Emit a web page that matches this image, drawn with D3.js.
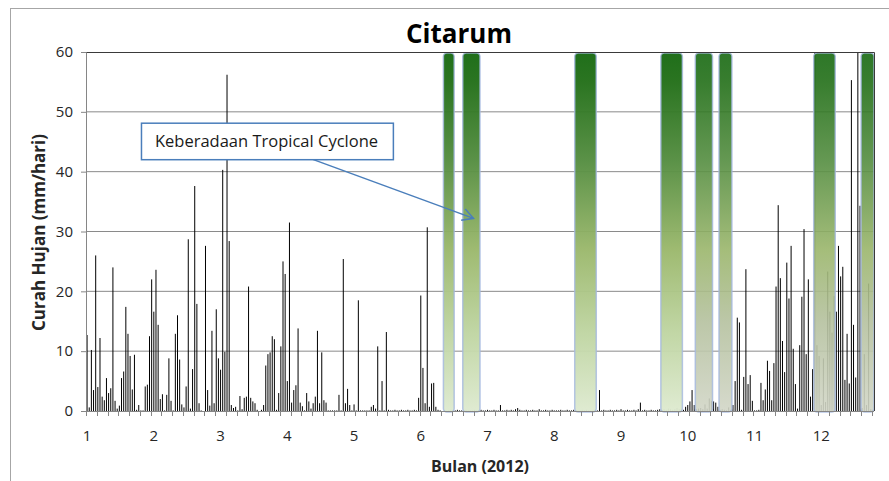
<!DOCTYPE html>
<html>
<head>
<meta charset="utf-8">
<script src="https://cdn.jsdelivr.net/npm/d3@7/dist/d3.min.js"></script>
<style>
body { margin: 0; background: #fff; }
text { font-family: "Open Sans", "DejaVu Sans", sans-serif; }
</style>
</head>
<body>
<script>
let w = 889;
let h = 481;
let plotL = 86, plotR = 874, plotT = 52, plotB = 411;

// daily rainfall 2012 (mm/hari), day 1..366
let rain = [
  12.7, 0.6, 10.2, 3.5, 26, 4, 12.2, 2.4, 1.8, 5.5,
  3, 3.8, 24, 1.7, 0.4, 0.9, 5.5, 6.6, 17.4, 12.9,
  9.2, 3.6, 9.4, 0.2, 1, 0.1, 0.1, 4.1, 4.4, 12.5,
  22, 16.6, 23.6, 14.4, 2, 2.8, 0.1, 2.7, 8.8, 1.7,
  0.1, 12.9, 16, 8.6, 1.1, 0.6, 4.1, 28.7, 0.4, 7,
  37.6, 17.9, 1.3, 0.1, 0, 27.6, 3.5, 0.9, 13.4, 1.3,
  17, 8.8, 6.9, 40.3, 9.9, 56.2, 28.4, 1, 0.5, 0.7,
  0.1, 2.5, 0.3, 2.2, 2.4, 20.8, 2.2, 1.6, 1.3, 0.2,
  0, 0.2, 1, 7.6, 9.5, 9.8, 12.5, 12, 0.2, 3,
  10.8, 25, 22.9, 5, 31.5, 1.4, 3.5, 4.3, 13.8, 1.4,
  0.8, 0.1, 3, 1.6, 0.4, 1.3, 2.4, 13.4, 1.3, 9.8,
  1.8, 1.4, 0.1, 0.1, 0.1, 0.1, 0.1, 2.7, 0.1, 25.4,
  1.3, 3.7, 1, 0.1, 1.1, 0.1, 18.5, 0.1, 0.1, 0.1,
  0.1, 0.1, 0.7, 1, 0.4, 10.8, 0.1, 5, 0.1, 13.2,
  0.2, 0.1, 0.1, 0.2, 0.1, 0.1, 0.2, 0.1, 0.1, 0.2,
  0.1, 0.1, 0.2, 0.1, 2.2, 19.3, 7.2, 1.3, 30.7, 0.7,
  4.6, 4.7, 0.7, 0.2, 0.1, 0, 0.1, 0, 0.1, 0.2,
  0.1, 0.1, 0.2, 0.1, 0.1, 0, 0.2, 0.1, 0.1, 0.1,
  0.2, 0.1, 0.1, 0.2, 0.1, 0.1, 0.2, 0.1, 0.1, 0.2,
  0.1, 0.1, 1, 0.1, 0.1, 0.2, 0.1, 0.2, 0.1, 0.3,
  0.5, 0.2, 0.1, 0.1, 0.2, 0.1, 0.1, 0.2, 0.1, 0.1,
  0.3, 0.1, 0.1, 0.2, 0.1, 0.1, 0.2, 0.1, 0.1, 0.1,
  0.2, 0.1, 0.1, 0.2, 0.1, 0.1, 0.2, 0.1, 0.1, 0.1,
  0.2, 0.1, 0.2, 0.1, 0.1, 0.2, 0.3, 0.1, 3.5, 0.1,
  0.2, 0.1, 0.1, 0.2, 0.1, 0.1, 0.2, 0.1, 0.3, 0.1,
  0.1, 0.2, 0.1, 0.1, 0.2, 0.1, 0.3, 1.4, 0.1, 0.2,
  0.1, 0.1, 0.2, 0.1, 0.1, 0.2, 0.3, 0.2, 0.3, 0.2,
  0.4, 0.3, 0.2, 0.3, 0.5, 0.3, 0.4, 0.2, 0.7, 1,
  1.6, 3.5, 1, 0.3, 0.4, 0.5, 0.3, 1.1, 0.4, 2.1,
  1.7, 1.6, 1.4, 0.7, 0.2, 0.3, 0.2, 0.1, 0.6, 0.2,
  1, 5, 15.6, 14.8, 0.2, 5.7, 23.7, 4.5, 6, 1.7,
  0.1, 0.1, 0.2, 4.7, 1.8, 3.6, 8.4, 6.7, 1.8, 8,
  20.8, 34.4, 22.2, 11.7, 6.5, 24.8, 18.8, 27.6, 10.4, 4.5,
  0.4, 11, 19.1, 30.4, 9.5, 22, 2.4, 7, 65, 11,
  9.2, 1, 8.8, 1.5, 23.3, 16.6, 13.1, 19.2, 16.6, 27.6,
  22.5, 24.1, 5.2, 12.9, 4.6, 55.3, 14.4, 5.6, 70, 34.3,
  0.5, 9.5, 1, 21.3, 0.3, 0.2
];
let days = d3.range(1, rain.length + 1);

// tropical cyclone periods (first / last day)
let cycStart = [167, 176, 228, 268, 284, 295, 339, 361];
let cycEnd   = [171, 183, 237, 277, 291, 300, 348, 366];
let cycFaded = [false, false, false, false, true, true, true, true];

// axis labels
let labelDays = [1, 32, 63, 94, 125, 156, 187, 218, 249, 280, 311, 342];
let monthLabels = ["1", "2", "3", "4", "5", "6", "7", "8", "9", "10", "11", "12"];
let yTicks = [0, 10, 20, 30, 40, 50, 60];

let svg = d3.select("body")
  .append("svg")
  .attr("width", w)
  .attr("height", h);

let defs = svg.append("defs");

defs.append("clipPath").attr("id", "plotclip")
  .append("rect")
  .attr("x", plotL).attr("y", plotT)
  .attr("width", plotR - plotL).attr("height", plotB - plotT);

function gradient(id, stops) {
  let g = defs.append("linearGradient").attr("id", id)
    .attr("x1", 0).attr("y1", 0).attr("x2", 0).attr("y2", 1);
  stops.forEach(s => g.append("stop").attr("offset", s[0]).attr("stop-color", s[1]));
}
gradient("gGreen", [[0, "#176911"], [0.08, "#226f18"], [0.3, "#548d40"], [0.55, "#9bb86c"], [0.78, "#bfd5a2"], [1, "#deead0"]]);
gradient("gGrey", [[0, "#176911"], [0.08, "#226f18"], [0.3, "#548d40"], [0.55, "#9bb66c"], [0.75, "#b5c19f"], [1, "#d2d6c7"]]);

let marker = defs.append("marker")
  .attr("id", "arrow")
  .attr("markerUnits", "userSpaceOnUse")
  .attr("markerWidth", 14).attr("markerHeight", 14)
  .attr("viewBox", "0 0 14 14")
  .attr("refX", 12).attr("refY", 7)
  .attr("orient", "auto");
marker.append("path")
  .attr("d", "M1,1 L12,7 L1,13")
  .attr("fill", "none")
  .attr("stroke", "#4a7ebb")
  .attr("stroke-width", 1.5);

// outer chart frame
svg.append("rect")
  .attr("x", 10.5).attr("y", 8.5)
  .attr("width", 920).attr("height", 520)
  .attr("fill", "#fff")
  .attr("stroke", "#a6a6a6");

// scales
let xScale = d3.scaleBand()
  .domain(days)
  .range([plotL, plotR]);
let bw = xScale.bandwidth();

let yScale = d3.scaleLinear()
  .domain([0, 60])
  .range([plotB, plotT]);

// gridlines
svg.append("g")
  .selectAll("line")
  .data(yTicks.filter(d => d > 0 && d < 60))
  .enter().append("line")
  .attr("x1", plotL).attr("x2", plotR)
  .attr("y1", d => yScale(d)).attr("y2", d => yScale(d))
  .attr("stroke", "#8a8a8a")
  .attr("stroke-width", 1);

// rain bars
svg.append("g")
  .attr("clip-path", "url(#plotclip)")
  .selectAll("line")
  .data(rain)
  .enter().append("line")
  .attr("x1", (d, i) => xScale(days[i]) + bw / 2)
  .attr("x2", (d, i) => xScale(days[i]) + bw / 2)
  .attr("y1", yScale(0))
  .attr("y2", d => yScale(d))
  .attr("stroke", "#000")
  .attr("stroke-width", 1);

// tropical cyclone bands
svg.append("g")
  .selectAll("rect")
  .data(cycStart)
  .enter().append("rect")
  .attr("x", d => xScale(d))
  .attr("width", (d, i) => xScale(cycEnd[i]) + bw - xScale(d))
  .attr("y", yScale(60) + 1)
  .attr("height", yScale(0) - yScale(60))
  .attr("rx", 3.5)
  .attr("fill", (d, i) => cycFaded[i] ? "url(#gGrey)" : "url(#gGreen)")
  .attr("fill-opacity", (d, i) => cycFaded[i] ? 0.9 : 0.96)
  .attr("stroke", "#a4b8de")
  .attr("stroke-opacity", 0.8)
  .attr("stroke-width", 1.5);

// plot border (top / right)
svg.append("path")
  .attr("d", `M${plotL},${plotT + 0.5}H${plotR + 0.5}V${plotB}`)
  .attr("fill", "none")
  .attr("stroke", "#3a3a3a")
  .attr("stroke-width", 1);

// y axis
let yAxis = d3.axisLeft(yScale)
  .tickValues(yTicks)
  .tickSize(5)
  .tickPadding(8);
let gy = svg.append("g")
  .attr("transform", "translate(" + plotL + ",0)")
  .call(yAxis);
gy.select(".domain").attr("stroke", "#868686");
gy.selectAll(".tick line").attr("stroke", "#868686");
gy.selectAll(".tick text")
  .attr("font-size", 15)
  .attr("font-family", "Open Sans")
  .attr("fill", "#262626");

// x axis
svg.append("line")
  .attr("x1", plotL).attr("x2", plotR)
  .attr("y1", plotB + 0.5).attr("y2", plotB + 0.5)
  .attr("stroke", "#868686");

svg.append("g")
  .selectAll("line")
  .data(days.filter((d, i) => i % 5 === 0))
  .enter().append("line")
  .attr("x1", d => Math.round(xScale(d)) + 0.5)
  .attr("x2", d => Math.round(xScale(d)) + 0.5)
  .attr("y1", plotB)
  .attr("y2", plotB + 5)
  .attr("stroke", "#868686");

svg.append("g")
  .selectAll("text")
  .data(labelDays)
  .enter().append("text")
  .attr("x", d => xScale(d) + bw / 2)
  .attr("y", 441)
  .attr("text-anchor", "middle")
  .attr("font-size", 15)
  .attr("fill", "#262626")
  .text((d, i) => monthLabels[i]);

// titles
svg.append("text")
  .attr("x", 459).attr("y", 43)
  .attr("text-anchor", "middle")
  .attr("font-size", 26)
  .attr("font-weight", "bold")
  .attr("fill", "#000")
  .text("Citarum");

svg.append("text")
  .attr("x", (plotL + plotR) / 2).attr("y", 472)
  .attr("text-anchor", "middle")
  .attr("font-size", 16)
  .attr("font-weight", "bold")
  .attr("fill", "#262626")
  .text("Bulan (2012)");

svg.append("text")
  .attr("transform", "translate(45," + ((plotT + plotB) / 2 + 1) + ") rotate(-90)")
  .attr("text-anchor", "middle")
  .attr("font-size", 17)
  .attr("font-weight", "bold")
  .attr("fill", "#262626")
  .text("Curah Hujan (mm/hari)");

// callout
svg.append("line")
  .attr("x1", xScale(106)).attr("y1", yScale(42.1))
  .attr("x2", xScale(181)).attr("y2", yScale(32.2))
  .attr("stroke", "#4a7ebb")
  .attr("stroke-width", 1.5)
  .attr("marker-end", "url(#arrow)");

svg.append("rect")
  .attr("x", xScale(27) - 0.5).attr("y", yScale(48.1))
  .attr("width", xScale(144) - xScale(27))
  .attr("height", yScale(42) - yScale(48.1))
  .attr("fill", "#fff")
  .attr("stroke", "#4a7ebb")
  .attr("stroke-width", 1.5);

svg.append("text")
  .attr("x", xScale(27) + 13).attr("y", yScale(45.05) + 5.5)
  .attr("font-size", 16.5)
  .attr("fill", "#1a1a1a")
  .text("Keberadaan Tropical Cyclone");
</script>
</body>
</html>
